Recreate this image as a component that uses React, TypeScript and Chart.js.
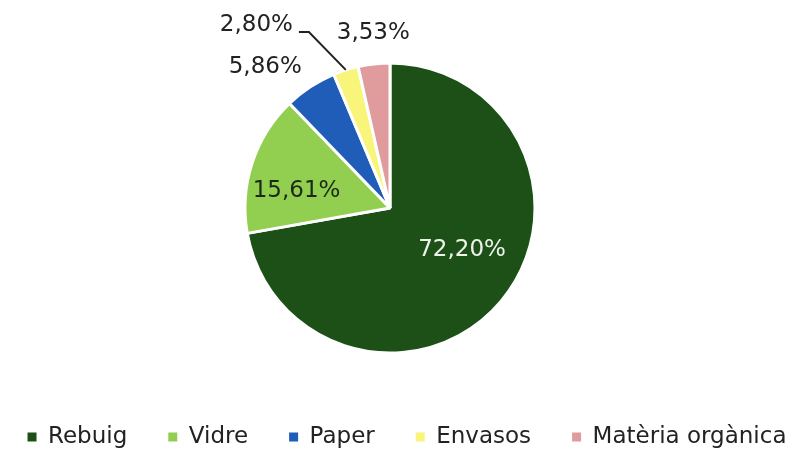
import React, { useEffect, useRef } from "react";
import { Chart, registerables } from "chart.js";

Chart.register(...registerables);

// ---- data ----
const categories = ["Rebuig", "Vidre", "Paper", "Envasos", "Matèria orgànica"];
const shares = [72.2, 15.61, 5.86, 2.8, 3.53];
const valueLabels = ["72,20%", "15,61%", "5,86%", "2,80%", "3,53%"];

// ---- styles ----
const sliceColors = ["#1c5016", "#92cf50", "#1f5db9", "#f8f57a", "#e09b9c"];
const FONT = "'DejaVu Sans', sans-serif";
const PIE_CENTER_X = 390;
// label placement relative to each arc: distance (x radius) and angular shift (deg)
const labelPlacement = [
  { dist: 0.575, shift: -9.7, color: "#eef3ea", leader: false },
  { dist: 0.655, shift: -7.7, color: "#1b2a15", leader: false },
  { dist: 1.3, shift: -8.1, color: "#222222", leader: false },
  { dist: 1.336, shift: -7, color: "#222222", leader: true },
  { dist: 1.21, shift: 0.9, color: "#222222", leader: false },
];

const centerPiePlugin = {
  id: "centerPie",
  afterLayout(chart: any) {
    const ca = chart.chartArea;
    const half = Math.min(ca.right - PIE_CENTER_X, PIE_CENTER_X - ca.left);
    ca.left = PIE_CENTER_X - half;
    ca.right = PIE_CENTER_X + half;
    ca.width = 2 * half;
  },
};

const sliceLabelPlugin = {
  id: "sliceLabels",
  afterDatasetsDraw(chart: any) {
    const ctx = chart.ctx;
    const meta = chart.getDatasetMeta(0);
    meta.data.forEach((arc: any, i: number) => {
      const { x, y, startAngle, endAngle, outerRadius } = arc.getProps(
        ["x", "y", "startAngle", "endAngle", "outerRadius"],
        true
      );
      const mid = (startAngle + endAngle) / 2;
      const st = labelPlacement[i];
      const a = mid + (st.shift * Math.PI) / 180;
      ctx.save();
      ctx.font = `23px ${FONT}`;
      ctx.fillStyle = st.color;
      ctx.textBaseline = "middle";
      if (st.leader) {
        const sx = x + outerRadius * Math.cos(mid);
        const sy = y + outerRadius * Math.sin(mid);
        const ex = x + outerRadius * st.dist * Math.cos(a);
        const ey = y + outerRadius * st.dist * Math.sin(a);
        const hx = ex - 10;
        ctx.strokeStyle = "#222222";
        ctx.lineWidth = 2;
        ctx.beginPath();
        ctx.moveTo(sx, sy);
        ctx.lineTo(ex, ey);
        ctx.lineTo(hx, ey);
        ctx.stroke();
        ctx.textAlign = "right";
        ctx.fillText(valueLabels[i], hx - 6, ey - 7);
      } else {
        ctx.textAlign = "center";
        ctx.fillText(
          valueLabels[i],
          x + outerRadius * st.dist * Math.cos(a),
          y + outerRadius * st.dist * Math.sin(a)
        );
      }
      ctx.restore();
    });
  },
};

export default function App() {
  const canvasRef = useRef<HTMLCanvasElement | null>(null);

  useEffect(() => {
    if (!canvasRef.current) return;
    const chart = new Chart(canvasRef.current, {
      type: "pie",
      data: {
        labels: categories,
        datasets: [
          {
            data: shares,
            backgroundColor: sliceColors,
            borderColor: "#ffffff",
            borderWidth: 3,
          },
        ],
      },
      options: {
        animation: false,
        responsive: true,
        maintainAspectRatio: false,
        events: [],
        radius: 145,
        font: { family: FONT },
        layout: { padding: { top: 31.5, bottom: -1.5, left: -25, right: -43 } },
        plugins: {
          tooltip: { enabled: false },
          legend: {
            display: true,
            position: "bottom",
            labels: {
              boxWidth: 9,
              boxHeight: 9,
              padding: 41,
              color: "#222222",
              font: { size: 23, family: FONT },
              generateLabels: () =>
                categories.map((t, i) => ({
                  text: t,
                  fillStyle: sliceColors[i],
                  strokeStyle: sliceColors[i],
                  lineWidth: 0,
                  hidden: false,
                  index: i,
                  fontColor: "#222222",
                })),
            },
          },
        },
      } as any,
      plugins: [centerPiePlugin, sliceLabelPlugin],
    });
    return () => chart.destroy();
  }, []);

  return (
    <div
      style={{
        position: "fixed",
        left: 0,
        top: 0,
        width: 796,
        height: 457,
        background: "#ffffff",
      }}
    >
      <canvas ref={canvasRef} />
    </div>
  );
}
